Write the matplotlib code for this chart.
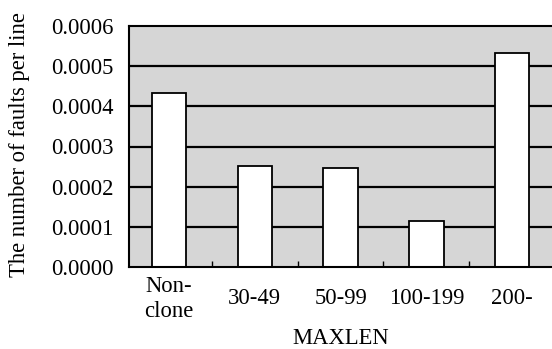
import numpy as np
import matplotlib
matplotlib.use('Agg')
import matplotlib.pyplot as plt

# Dados
categorias = ['Non-\nclone', '30-49', '50-99', '100-199', '200-']
faltas_por_linha = [0.000433, 0.000251, 0.000246, 0.000114, 0.000532]
ticks_y = [0.0000, 0.0001, 0.0002, 0.0003, 0.0004, 0.0005, 0.0006]

plt.rcParams['font.family'] = ['Liberation Serif', 'DejaVu Serif']
tam = 16.3

fig = plt.figure(figsize=(5.52, 3.49), dpi=100)
ax = fig.add_axes([129 / 552, 1 - 267 / 349, 1 - 129 / 552, (267 - 26) / 349])
ax.set_facecolor('#d6d6d6')

x = np.arange(len(categorias))

# linhas de grade por baixo das barras
for v in ticks_y[1:-1]:
    ax.axhline(v, color='black', lw=1.6, zorder=1)

ax.bar(x, faltas_por_linha, width=0.40, color='white', edgecolor='black',
       linewidth=1.3, zorder=2)

ax.set_xlim(-0.466, 4.464)
ax.set_ylim(0, 0.0006)
ax.set_yticks(ticks_y)
ax.set_yticklabels(['%.4f' % v for v in ticks_y], fontsize=tam)
ax.tick_params(axis='y', length=0, pad=11)

ax.set_xticks(x)
ax.set_xticklabels(categorias, fontsize=tam, linespacing=1.25)
for lab in ax.get_xticklabels():
    lab.set_va('center')
ax.tick_params(axis='x', which='major', length=0, pad=23)
ax.set_xticks([0.5, 1.5, 2.5, 3.5], minor=True)
ax.tick_params(axis='x', which='minor', direction='in', length=4, width=1)

for lado in ['left', 'bottom', 'top']:
    ax.spines[lado].set_linewidth(1.5)
ax.spines['right'].set_visible(False)

ax.set_xlabel('MAXLEN', fontsize=tam, labelpad=4)
fig.text(20 / 552, 1 - 145 / 349, 'The number of faults per line', fontsize=tam,
         rotation=90, ha='center', va='center')

fig.savefig('out.png', dpi=100)
